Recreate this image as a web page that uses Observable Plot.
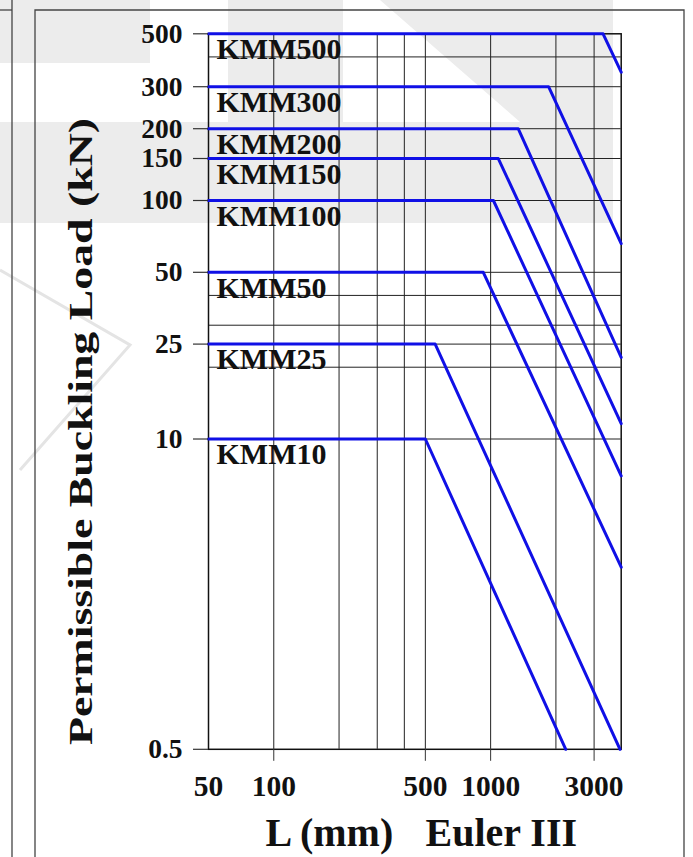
<!DOCTYPE html>
<html>
<head>
<meta charset="utf-8">
<script src="https://cdn.jsdelivr.net/npm/d3@7"></script>
<script src="https://cdn.jsdelivr.net/npm/@observablehq/plot@0.6"></script>
<style>
  body { margin: 0; background: #fff; }
  #wrap { position: relative; width: 693px; height: 857px; overflow: hidden; }
  #bg, #chart { position: absolute; left: 0; top: 0; }
</style>
</head>
<body>
<div id="wrap">
  <svg id="bg" width="693" height="857">
    <g fill="#ececec">
      <rect x="0" y="0" width="150" height="63"></rect>
      <rect x="228" y="0" width="115" height="223"></rect>
      <polygon points="380,0 613,0 613,223 520,223 520,122"></polygon>
      <rect x="0" y="122" width="613" height="101"></rect>
    </g>
    <g fill="none" stroke="#e4e4e4" stroke-width="3">
      <polyline points="0,270 130,345 20,470"></polyline>
    </g>
    <g fill="none" stroke="#444" stroke-width="1.3">
      <line x1="12" y1="0" x2="12" y2="857"></line>
      <line x1="0" y1="10" x2="12" y2="10"></line>
      <polyline points="35,857 35,10 684,10 684,857"></polyline>
    </g>
  </svg>
  <div id="chart"></div>
</div>
<script>
// ---- data ----
const models     = ["KMM500", "KMM300", "KMM200", "KMM150", "KMM100", "KMM50", "KMM25", "KMM10"];
const capacity   = [500, 300, 200, 150, 100, 50, 25, 10];          // kN, flat part
const kneeLength = [3300, 1850, 1340, 1085, 1030, 925, 555, 500];  // mm, where Euler curve starts
const endLength  = [4000, 4000, 4000, 4000, 4000, 4000, 3950, 2220]; // mm, end of drawn line
const endLoad    = [345, 66, 22, 11.6, 7.0, 2.9, 0.5, 0.5];       // kN at end of drawn line
const startLength = 50;

const xTickLabels = [50, 100, 500, 1000, 3000];
const xTickMarks  = [100, 500, 1000, 3000];
const yTickLabels = [500, 300, 200, 150, 100, 50, 25, 10, 0.5];
const xGrid = [100, 200, 300, 400, 500, 1000, 2000, 3000];
const yGrid = [400, 300, 200, 150, 100, 50, 40, 30, 25, 20, 10];

// build line table
const rows = [];
models.forEach((m, i) => {
  rows.push({model: m, L: startLength, P: capacity[i]});
  rows.push({model: m, L: kneeLength[i], P: capacity[i]});
  rows.push({model: m, L: endLength[i], P: endLoad[i]});
});
const labels = models.map((m, i) => ({model: m, P: capacity[i]}));
const yTicks = yTickLabels.map(v => ({v, s: String(v)}));

const serif = "'Liberation Serif', 'Times New Roman', serif";

const chart = Plot.plot({
  width: 693,
  height: 857,
  marginLeft: 208,
  marginRight: 72.3,
  marginTop: 33.3,
  marginBottom: 108.2,
  style: {background: "transparent", fontFamily: serif, fontWeight: "bold", color: "#111"},
  x: {type: "log", domain: [50, 4000], axis: null},
  y: {type: "log", domain: [0.5, 500], axis: null},
  marks: [
    Plot.ruleX(xGrid, {x: d => d, stroke: "#222", strokeWidth: 1}),
    Plot.ruleY(yGrid, {y: d => d, stroke: "#222", strokeWidth: 1}),
    Plot.frame({stroke: "#111", strokeWidth: 1.5}),
    Plot.line(rows, {x: "L", y: "P", z: "model", stroke: "#1010e6", strokeWidth: 3}),
    Plot.text(labels, {
      x: () => startLength, y: "P", text: "model",
      dx: 8, dy: 4, lineAnchor: "top", textAnchor: "start",
      fontSize: 30, fontWeight: "bold", fontFamily: serif, fill: "#111"
    }),
    // y ticks: short marks left of the frame + labels
    Plot.tickY(yTicks, {y: "v", dx: -7.5, stroke: "#333", strokeWidth: 1.2,
      render: (index, scales, values, dimensions, context, next) => {
        const g = next(index, scales, values, dimensions, context);
        d3.select(g).selectAll("line")
          .attr("x1", dimensions.marginLeft - 15 + 7.5)
          .attr("x2", dimensions.marginLeft + 7.5);
        return g;
      }}),
    Plot.text(yTicks, {y: "v", text: "s", frameAnchor: "left", dx: -26, textAnchor: "end",
      lineAnchor: "middle", fontSize: 27.5, fontWeight: "bold", fontFamily: serif, fill: "#111"}),
    Plot.axisX({ticks: xTickMarks, tickSize: 12, text: null, label: null, stroke: "#333"}),
    Plot.text(xTickLabels.map(v => ({v, s: String(v)})), {x: "v", text: "s", frameAnchor: "bottom",
      dy: 37, lineAnchor: "middle", fontSize: 29.5, fontWeight: "bold", fontFamily: serif, fill: "#111"}),
    Plot.text(["L (mm)"], {frameAnchor: "bottom", dx: -149.4, dy: 84, textAnchor: "start",
      lineAnchor: "middle", fontSize: 40, fontWeight: "bold", fontFamily: serif, fill: "#111"}),
    Plot.text(["Euler III"], {frameAnchor: "bottom", dx: 10.7, dy: 84, textAnchor: "start",
      lineAnchor: "middle", fontSize: 40, fontWeight: "bold", fontFamily: serif, fill: "#111"}),
    Plot.text(["Permissible Buckling Load (kN)"], {frameAnchor: "left", rotate: -90, dx: -127, dy: 40,
      textAnchor: "middle", lineAnchor: "middle", fontSize: 33, fontWeight: "bold", fontFamily: serif, fill: "#111"})
  ]
});
document.getElementById("chart").appendChild(chart);

// stretch the condensed y title to its drawn length
d3.select(chart).selectAll("text").each(function() {
  if (this.textContent === "Permissible Buckling Load (kN)") {
    this.setAttribute("textLength", 627);
    this.setAttribute("lengthAdjust", "spacingAndGlyphs");
  }
});
</script>
</body>
</html>
